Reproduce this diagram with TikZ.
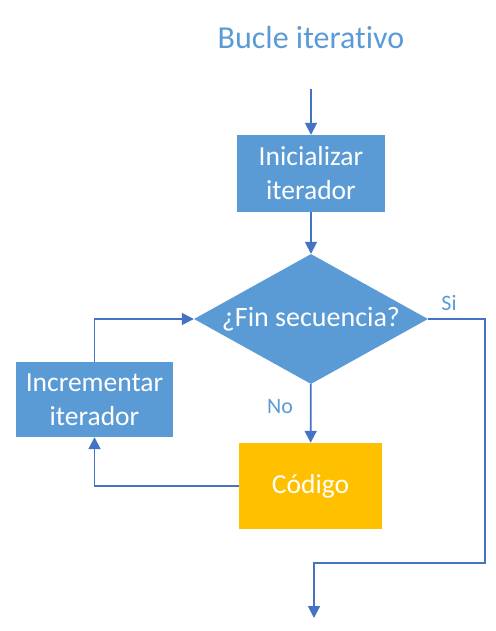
\documentclass[tikz,border=0pt]{standalone}
\usepackage{fontspec}
\setmainfont{Carlito}[Ligatures=NoCommon]
\usetikzlibrary{positioning,shapes.geometric,arrows.meta}

\definecolor{boxblue}{HTML}{5B9BD5}
\definecolor{lineblue}{HTML}{4472C4}
\definecolor{codeyellow}{HTML}{FFC000}

\tikzset{
  stepbox/.style={rectangle, fill=boxblue, text=white, align=center,
    inner sep=0pt, font=\fontsize{27.5}{34}\selectfont},
  decision/.style={diamond, fill=boxblue, text=white, aspect=1.8,
    inner sep=0pt, minimum width=234pt, minimum height=130pt,
    font=\fontsize{28}{34}\selectfont},
  flow/.style={draw=lineblue, line width=1.8pt,
    -{Triangle[length=12pt,width=12pt]}},
  tag/.style={text=boxblue, font=\fontsize{22}{26}\selectfont, inner sep=0pt}
}

\begin{document}
\begin{tikzpicture}[x=1pt,y=-1pt]
\useasboundingbox (0,0) rectangle (495,631);

\node[text=boxblue, font=\fontsize{32}{36}\selectfont] (title) at (311,38) {Bucle iterativo};

\coordinate (start) at (311,89);
\node[stepbox, minimum width=148pt, minimum height=77pt] (init) at (311,173.5) {Inicializar\\iterador};
\node[decision] (fin) at (311,319) {¿Fin secuencia?};
\node[stepbox, fill=codeyellow, minimum width=143pt, minimum height=86pt] (codigo) at (310.5,486) {Código};
\node[stepbox, minimum width=157pt, minimum height=75pt] (incr) at (94.5,399.5) {Incrementar\\iterador};
\coordinate (corner) at (485,563);
\coordinate (stop) at (314,618);

\draw[flow] (start) -- (init);
\draw[flow] (init) -- (fin);
\draw[flow] (fin) -- (codigo);
\draw[flow] (codigo.west) -| (incr.south);
\draw[flow] (incr.north) |- (fin.west);
\draw[flow] (fin.east) -| (corner) -| (stop);

\node[tag, anchor=center] (no) at (280,407) {No};
\node[tag, anchor=center] (si) at (449,303) {Si};

\end{tikzpicture}
\end{document}
